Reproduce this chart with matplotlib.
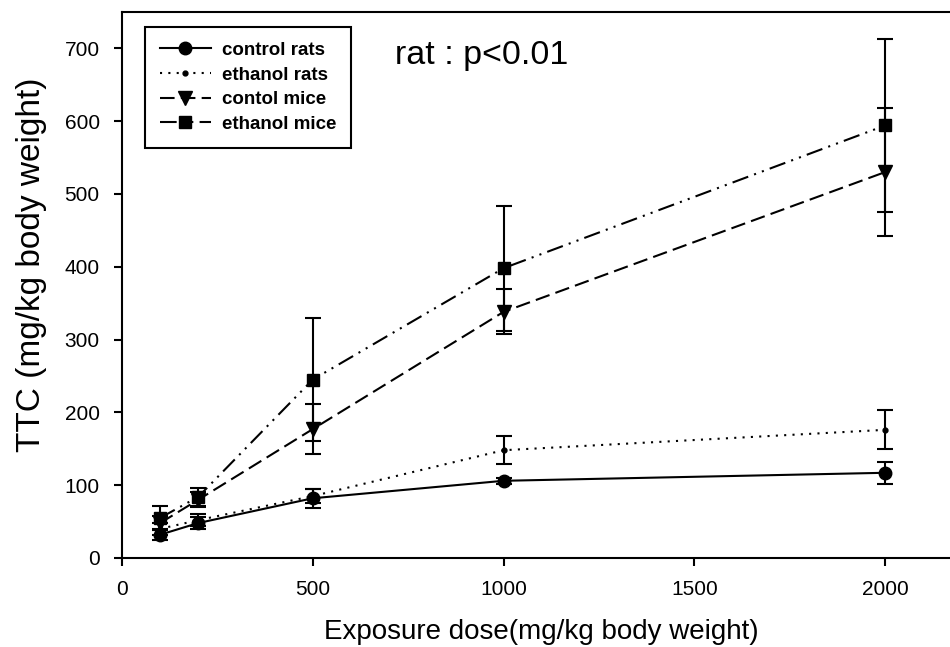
import matplotlib.pyplot as plt

plt.rcParams['font.family'] = ['Liberation Sans', 'DejaVu Sans']

doses = [100, 200, 500, 1000, 2000]

control_rats = [32, 48, 82, 106, 117]
control_rats_err = [8, 8, 13, 4, 15]
ethanol_rats = [40, 52, 85, 148, 176]
ethanol_rats_err = [8, 8, 10, 19, 27]
control_mice = [48, 80, 177, 338, 530]
control_mice_err = [10, 10, 34, 31, 88]
ethanol_mice = [55, 84, 245, 398, 594]
ethanol_mice_err = [16, 12, 85, 86, 119]

labels = ['control rats', 'ethanol rats', 'contol mice', 'ethanol mice']

fig = plt.figure(figsize=(9.5, 6.47), dpi=100)
ax = fig.add_axes([0.1284, 0.1376, 0.8716, 0.844])

common = dict(color='black', ecolor='black', elinewidth=1.5, capsize=6, capthick=1.5, lw=1.5)

c1 = ax.errorbar(doses, control_rats, yerr=control_rats_err, marker='o', ms=9,
                 ls='-', **common)
c2 = ax.errorbar(doses, ethanol_rats, yerr=ethanol_rats_err, marker='o', ms=3.5,
                 ls=(0, (1, 3)), **common)
c3 = ax.errorbar(doses, control_mice, yerr=control_mice_err, marker='v', ms=10,
                 ls=(0, (7, 3)), **common)
c4 = ax.errorbar(doses, ethanol_mice, yerr=ethanol_mice_err, marker='s', ms=8,
                 ls=(0, (8, 3, 1, 3, 1, 3)), **common)

ax.set_xlim(0, 2170)
ax.set_ylim(0, 750)
ax.set_xticks([0, 500, 1000, 1500, 2000])
ax.set_yticks(range(0, 701, 100))
ax.tick_params(direction='out', length=6, width=1.5, labelsize=15, pad=10)
for side in ['left', 'bottom', 'top']:
    ax.spines[side].set_linewidth(1.5)
ax.spines['right'].set_visible(False)

ax.set_xlabel('Exposure dose(mg/kg body weight)', fontsize=20)
ax.set_ylabel('TTC (mg/kg body weight)', fontsize=24)
ax.xaxis.set_label_coords(0.506, -0.112)
ax.yaxis.set_label_coords(-0.09, 0.537)

ax.text(716, 690, 'rat : p<0.01', fontsize=24.5, ha='left', va='center')

# legend with lines/markers only (no error bars in handles)
handles = [c[0] for c in (c1, c2, c3, c4)]
leg = ax.legend(handles, labels, loc='upper left', bbox_to_anchor=(0.028, 0.9725),
                borderaxespad=0, prop={'weight': 'bold', 'size': 13.5},
                handlelength=2.7, handletextpad=0.6, labelspacing=0.4,
                borderpad=0.8, fancybox=False, framealpha=1, edgecolor='black')
leg.get_frame().set_linewidth(1.5)

fig.savefig('out.png', dpi=100)
